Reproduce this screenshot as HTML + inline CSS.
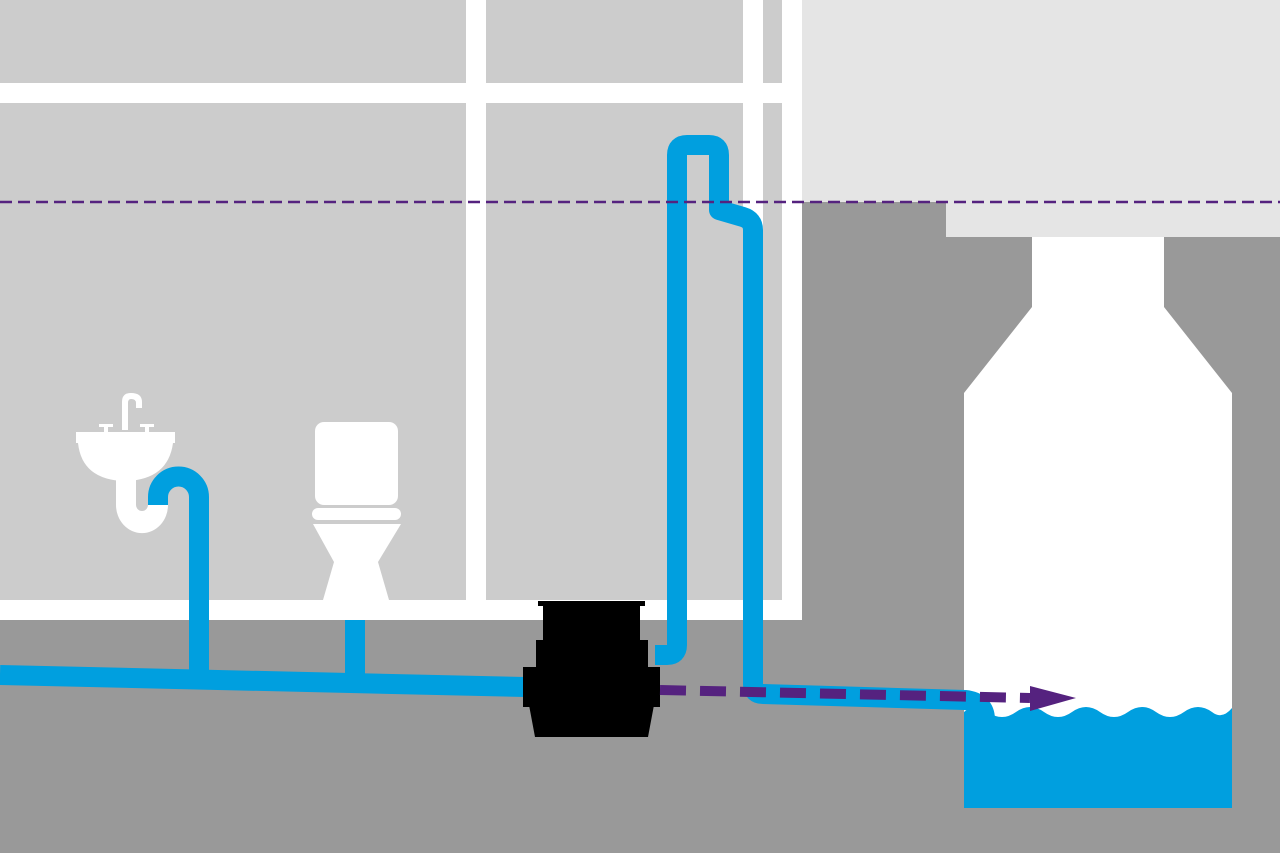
<!DOCTYPE html>
<html><head><meta charset="utf-8"><style>html,body{margin:0;padding:0;background:#999}svg{display:block}</style></head>
<body>
<svg width="1280" height="853" viewBox="0 0 1280 853" xmlns="http://www.w3.org/2000/svg">
<rect width="1280" height="853" fill="#999999"/>
<rect x="0" y="0" width="802" height="620" fill="#cccccc"/>
<rect x="802" y="0" width="478" height="202" fill="#e5e5e5"/>
<rect x="946" y="202" width="334" height="35" fill="#e5e5e5"/>
<g fill="#ffffff">
<rect x="0" y="83" width="782" height="20"/>
<rect x="466" y="0" width="20" height="620"/>
<rect x="743" y="0" width="20" height="620"/>
<rect x="782" y="0" width="20" height="620"/>
<rect x="0" y="600" width="802" height="20"/>
</g>
<polygon points="1032,237 1164,237 1164,307 1232,393 1232,808 964,808 964,393 1032,307" fill="#ffffff"/>
<path d="M964,712 Q976,702 988,712 Q1002,722 1016,712 Q1030,702 1044,712 Q1058,722 1072,712 Q1086,702 1100,712 Q1114,722 1128,712 Q1142,702 1156,712 Q1170,722 1184,712 Q1198,702 1212,712 Q1222,720 1232,708 L1232,808 L964,808 Z" fill="#009fdf"/>
<g fill="#ffffff">
<rect x="76" y="432" width="99" height="11"/>
<path d="M78,443 L173,443 Q168,480 125,481 Q82,480 78,443 Z"/>
<path d="M122,430 L122,402 Q122,393 131,393 Q142,393 142,402 L142,408 L136,408 L136,403 Q136,399 131,399 Q128,399 128,403 L128,430 Z"/>
<rect x="99" y="424" width="14" height="3"/><rect x="104" y="424" width="4" height="9"/>
<rect x="140" y="424" width="14" height="3"/><rect x="145" y="424" width="4" height="9"/>
<path d="M116,475 L116,505 A25,27 0 0 0 168,505 L168,497 L148,497 L148,505 A6,6 0 0 1 136,505 L136,475 Z"/>
</g>
<g fill="#ffffff">
<rect x="315" y="422" width="83" height="83" rx="9"/>
<rect x="312" y="508" width="89" height="12" rx="6"/>
<path d="M313,524 L401,524 L378,562 L389,600 L323,600 L334,562 Z"/>
</g>
<g fill="none" stroke="#009fdf" stroke-width="20" stroke-linejoin="round">
<path d="M0,675 L525,687"/>
<path d="M199,675 L199,497 A20.5,20.5 0 0 0 158,497 L158,505" stroke-linejoin="miter"/>
<path d="M355,620 L355,678"/>
<path d="M655,655 L667,655 Q677,655 677,645 L677,155 Q677,145 687,145 L709,145 Q719,145 719,155 L719,210 L743,217 Q753,220 753,230 L753,684 Q753,694 763,694 L965,700 Q985,702 985,720"/>
</g>
<line x1="0" y1="202" x2="1280" y2="202" stroke="#55227f" stroke-width="2.5" stroke-dasharray="12,6"/>
<g fill="#000000">
<rect x="538" y="601" width="107" height="5"/>
<rect x="543" y="603" width="97" height="40"/>
<rect x="536" y="640" width="112" height="30"/>
<rect x="523" y="667" width="137" height="40"/>
<polygon points="529,705 654,705 648,737 535,737"/>
</g>
<line x1="660" y1="690" x2="1030" y2="698" stroke="#55227f" stroke-width="10" stroke-dasharray="26,14"/>
<polygon points="1030,686 1076,698 1030,711" fill="#55227f"/>
</svg>
</body></html>
